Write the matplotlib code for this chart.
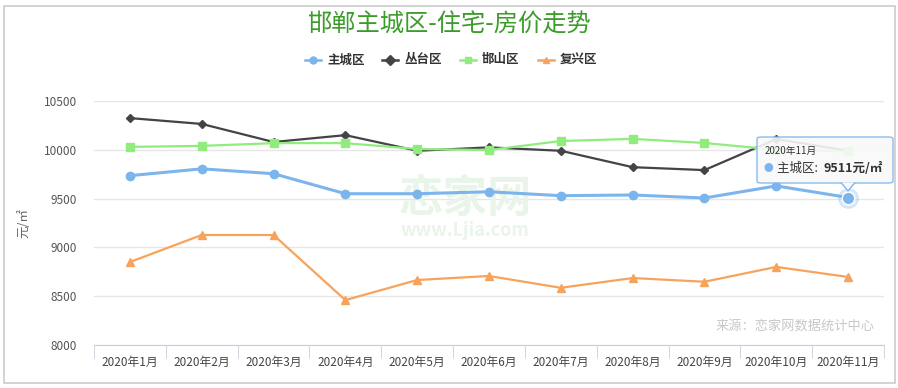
import matplotlib.pyplot as plt
import matplotlib.patches as mpatches

plt.rcParams['font.family'] = ['Noto Sans CJK SC', 'DejaVu Sans']

months = ['2020年1月', '2020年2月', '2020年3月', '2020年4月', '2020年5月', '2020年6月',
          '2020年7月', '2020年8月', '2020年9月', '2020年10月', '2020年11月']
zhucheng = [9735, 9805, 9755, 9550, 9550, 9570, 9530, 9537, 9506, 9630, 9511]
congtai = [10325, 10265, 10080, 10150, 9990, 10025, 9990, 9822, 9792, 10110, 9990]
hanshan = [10030, 10040, 10068, 10068, 10008, 9998, 10090, 10112, 10070, 10000, 9985]
fuxing = [8850, 9127, 9127, 8460, 8666, 8707, 8586, 8686, 8648, 8800, 8697]

W, H = 898, 388
fig = plt.figure(figsize=(W / 100, H / 100), dpi=100)


def px(x, y):
    return x / W, 1 - y / H


# outer border
fig.patches.append(mpatches.Rectangle(px(4, 383), 891 / W, 377 / H, transform=fig.transFigure,
                                      fill=False, edgecolor='#cccccc', linewidth=1.2))

ax = fig.add_axes([94 / W, 43 / H, (884 - 94) / W, (345 - 101) / H])
x = list(range(len(months)))

ax.plot(x, congtai, color='#434348', lw=1.6, marker='D', ms=4.5, zorder=3)
ax.plot(x, hanshan, color='#90ed7d', lw=1.6, marker='s', ms=5.5, zorder=3)
ax.plot(x, fuxing, color='#f7a35c', lw=1.6, marker='^', ms=6, zorder=3)
ax.plot(x, zhucheng, color='#7cb5ec', lw=2.2, marker='o', ms=6, zorder=4)
# hovered point
ax.plot(x[-1], zhucheng[-1], 'o', color='#7cb5ec', ms=14, alpha=0.25, zorder=4)
ax.plot(x[-1], zhucheng[-1], 'o', color='#7cb5ec', mec='white', mew=1, ms=9, zorder=5)

ax.set_xlim(-0.5, len(months) - 0.5)
ax.set_ylim(8000, 10500)
ax.set_yticks([8000, 8500, 9000, 9500, 10000, 10500])
ax.set_xticks(x)
ax.set_xticklabels(months)
ax.set_xticks([i - 0.5 for i in range(len(months) + 1)], minor=True)
ax.tick_params(axis='x', which='major', length=0, pad=8, labelsize=8.5, labelcolor='#444444')
ax.tick_params(axis='x', which='minor', length=9, color='#c0d0e0', direction='out')
ax.tick_params(axis='y', length=0, pad=12, labelsize=8.5, labelcolor='#555555')
ax.grid(axis='y', color='#e6e6e6', lw=1)
for s in ['top', 'right', 'left']:
    ax.spines[s].set_visible(False)
ax.spines['bottom'].set_color('#c0d0e0')
ax.set_axisbelow(True)

ax.set_ylabel('元/㎡', color='#666666', fontsize=9, labelpad=10)

# watermark
ax.text(0.47, 0.6, '恋家网', transform=ax.transAxes, ha='center', va='center',
        fontsize=32, fontweight='bold', color='#e8f5e8', zorder=1)
ax.text(0.47, 0.47, 'www.Ljia.com', transform=ax.transAxes, ha='center', va='center',
        fontsize=13, fontweight='bold', color='#e8f5e8', zorder=1)

fig.text(*px(449, 25), '邯郸主城区-住宅-房价走势', ha='center', va='center',
         fontsize=17.5, color='#3b9c2a')

# legend
leg_items = [('主城区', '#7cb5ec', 'o', 310), ('丛台区', '#434348', 'D', 387),
             ('邯山区', '#90ed7d', 's', 465), ('复兴区', '#f7a35c', '^', 543)]
for name, c, m, lx in leg_items:
    fig.lines.append(plt.Line2D([(lx - 5) / W, (lx + 11) / W], [1 - 60 / H] * 2,
                                transform=fig.transFigure, color=c, lw=1.8))
    fig.lines.append(plt.Line2D([(lx + 3) / W], [1 - 60 / H], transform=fig.transFigure,
                                color=c, marker=m, ms=5))
    fig.text(*px(lx + 17, 60), name, ha='left', va='center', fontsize=9,
             fontweight='bold', color='#333333')

fig.text(*px(875, 326), '来源：恋家网数据统计中心', ha='right', va='center',
         fontsize=9.5, color='#c8c8c8')

# tooltip
bx0, by0, bx1, by1 = 757, 137, 893, 183
fig.patches.append(mpatches.FancyBboxPatch(px(bx0, by1), (bx1 - bx0) / W, (by1 - by0) / H,
                                           boxstyle='round,pad=0,rounding_size=0.005',
                                           transform=fig.transFigure, facecolor='#f9f9f9',
                                           alpha=0.9, edgecolor='#7cb5ec', lw=1, zorder=10))
fig.patches.append(mpatches.Polygon([px(841, by1 - 0.5), px(848, 191), px(855, by1 - 0.5)],
                                    closed=False, transform=fig.transFigure, facecolor='#f9f9f9',
                                    edgecolor='#7cb5ec', lw=1, zorder=11))
fig.text(*px(765, 151), '2020年11月', ha='left', va='center', fontsize=7, color='#333333', zorder=12)
fig.text(*px(768, 168), '●', ha='center', va='center', fontsize=7, color='#7cb5ec', zorder=12)
fig.text(*px(777, 168), '主城区: ', ha='left', va='center', fontsize=9, color='#333333', zorder=12)
fig.text(*px(823, 168), '9511元/㎡', ha='left', va='center', fontsize=9, fontweight='bold',
         color='#333333', zorder=12)

fig.savefig('out.png', dpi=100)
